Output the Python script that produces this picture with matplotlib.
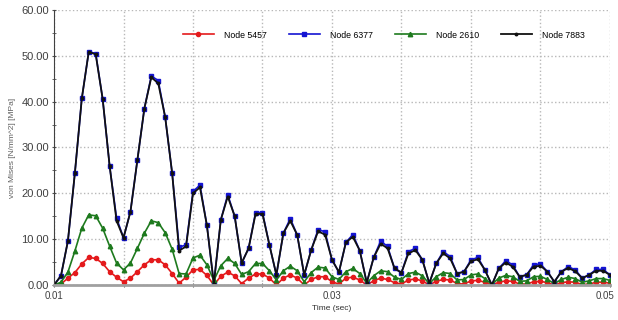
import matplotlib
matplotlib.use("Agg")
import matplotlib.pyplot as plt
import matplotlib.transforms as mtransforms
import numpy as np

plt.rcParams['font.family'] = ['Liberation Sans', 'DejaVu Sans']

# time samples (sec), 0.0005 s step
time = np.round(0.01 + np.arange(81) * 0.0005, 4)

node_5457 = [0.0, 0.2, 1.5, 2.7, 4.6, 6.0, 5.8, 4.7, 2.9, 1.7,
             0.7, 1.5, 2.9, 4.4, 5.5, 5.5, 4.4, 2.5, 0.4, 1.7,
             3.3, 3.4, 2.1, 0.0, 1.9, 2.8, 2.0, 0.3, 1.5, 2.4,
             2.4, 1.5, 0.0, 1.5, 2.2, 1.5, 0.0, 1.2, 1.8, 1.8,
             0.7, 0.2, 1.5, 1.7, 1.1, 0.0, 0.9, 1.5, 1.2, 0.5,
             0.2, 1.1, 1.3, 0.9, 0.0, 0.8, 1.2, 1.1, 0.3, 0.2,
             0.9, 1.0, 0.6, 0.0, 0.6, 0.9, 0.8, 0.2, 0.2, 0.7,
             0.8, 0.5, 0.0, 0.5, 0.7, 0.6, 0.1, 0.2, 0.6, 0.6,
             0.4]

node_6377 = [0.0, 2.0, 9.6, 24.4, 40.7, 50.9, 50.5, 40.6, 26.0, 14.6,
             10.3, 16.0, 27.3, 38.5, 45.6, 44.6, 36.6, 24.4, 8.3, 8.7,
             20.4, 21.8, 13.0, 0.3, 14.2, 19.7, 15.0, 4.8, 8.0, 15.8,
             15.8, 8.7, 2.2, 11.3, 14.5, 10.9, 2.2, 7.6, 12.1, 11.6,
             5.5, 2.8, 9.3, 11.0, 7.5, 0.5, 6.0, 9.6, 8.4, 3.6,
             2.7, 7.3, 8.0, 5.5, 0.4, 4.7, 7.3, 6.2, 2.5, 2.9,
             5.5, 6.0, 3.3, 0.0, 3.6, 5.3, 4.4, 1.8, 2.2, 4.4,
             4.6, 2.9, 0.7, 2.9, 4.0, 3.3, 1.5, 2.2, 3.4, 3.4,
             2.2]

node_2610 = [0.0, 0.6, 2.8, 7.4, 12.4, 15.3, 15.1, 12.4, 8.5, 4.8,
             3.3, 4.8, 8.0, 11.3, 14.0, 13.6, 11.4, 7.8, 2.5, 2.4,
             5.9, 6.5, 4.4, 1.0, 4.2, 5.8, 4.7, 2.3, 2.9, 4.7,
             4.7, 3.1, 1.1, 3.1, 4.1, 3.1, 0.7, 2.7, 3.9, 3.7,
             1.8, 1.2, 2.9, 3.6, 2.5, 0.4, 2.0, 3.1, 2.9, 1.7,
             1.2, 2.5, 2.8, 2.0, 0.3, 1.8, 2.7, 2.5, 1.1, 1.2,
             2.2, 2.4, 1.4, 0.1, 1.5, 2.1, 1.8, 0.8, 0.9, 1.8,
             1.9, 1.2, 0.3, 1.2, 1.7, 1.4, 0.6, 0.9, 1.4, 1.4,
             1.0]

node_7883 = [0.0, 2.0, 9.6, 24.4, 40.7, 50.9, 50.3, 40.6, 26.0, 14.0,
             10.3, 16.0, 27.3, 38.5, 45.3, 44.0, 36.6, 24.4, 7.5, 8.4,
             20.0, 21.3, 13.0, 0.3, 14.2, 19.3, 15.0, 4.8, 8.0, 15.5,
             15.5, 8.7, 2.2, 11.3, 14.0, 10.9, 2.2, 7.6, 11.7, 11.0,
             5.5, 2.8, 9.3, 10.5, 7.5, 0.5, 6.0, 9.0, 8.0, 3.6,
             2.7, 6.9, 7.6, 5.5, 0.4, 4.7, 6.9, 5.8, 2.5, 2.9,
             5.2, 5.6, 3.3, 0.0, 3.6, 4.9, 4.0, 1.8, 2.2, 4.0,
             4.2, 2.9, 0.7, 2.9, 3.7, 3.0, 1.5, 2.2, 3.1, 3.1,
             2.2]

x_ticks = [0.01, 0.015, 0.02, 0.025, 0.03, 0.035, 0.04, 0.045, 0.05]
x_labels = ['0.01', '', '', '', '0.03', '', '', '', '0.05']
y_ticks = [0, 10, 20, 30, 40, 50, 60]

fig = plt.figure(figsize=(6.18, 3.2), dpi=100)
ax = fig.add_axes([0.0874, 0.1094, 0.8996, 0.8594])

ax.plot(time, node_5457, color='#e41a1c', lw=1.2, marker='o', ms=3, label='Node 5457')
ax.plot(time, node_6377, color='#1414d2', lw=1.2, marker='s', ms=3.2, label='Node 6377')
ax.plot(time, node_2610, color='#1e7a1e', lw=1.2, marker='^', ms=3.2, label='Node 2610')
ax.plot(time, node_7883, color='#111111', lw=1.3, marker='o', ms=1.8, label='Node 7883')

ax.set_xlim(0.01, 0.05)
ax.set_ylim(0, 60)

ax.set_xticks(x_ticks)
ax.set_xticklabels(x_labels)
ax.set_yticks(y_ticks)
ax.set_yticklabels(['%.2f' % v for v in y_ticks])
ax.set_yticks(np.arange(5, 60, 10), minor=True)

ax.tick_params(axis='y', labelsize=8, labelcolor='#404040', color='#505050',
               length=3, direction='inout', pad=2)
ax.tick_params(axis='x', labelsize=7, labelcolor='#404040', color='#505050',
               length=3, direction='inout', pad=3)
ax.tick_params(axis='y', which='minor', length=3, direction='inout', color='#505050')

# last x label sits a little left of its tick, as in the original
last = ax.get_xticklabels()[-1]
last.set_transform(last.get_transform() +
                   mtransforms.ScaledTranslation(-5 / 100, 0, fig.dpi_scale_trans))

ax.grid(True, which='major', linestyle=':', color='#b8b8b8', lw=1)
for s in ('top', 'right'):
    ax.spines[s].set_visible(False)
ax.spines['left'].set_color('#404040')
ax.spines['bottom'].set_color('#a0a0a0')
ax.spines['bottom'].set_linewidth(2)

ax.set_xlabel('Time (sec)', fontsize=6, color='#303030', labelpad=3)
ax.set_ylabel('von Mises [N/mm^2] [MPa]', fontsize=6, color='#606060', labelpad=4)

ax.legend(loc='center', bbox_to_anchor=(0.593, 0.909), ncol=4, frameon=False,
          fontsize=6.3, handlelength=3.6, handletextpad=1.1, columnspacing=2.5)

fig.savefig('out.png', dpi=100)
